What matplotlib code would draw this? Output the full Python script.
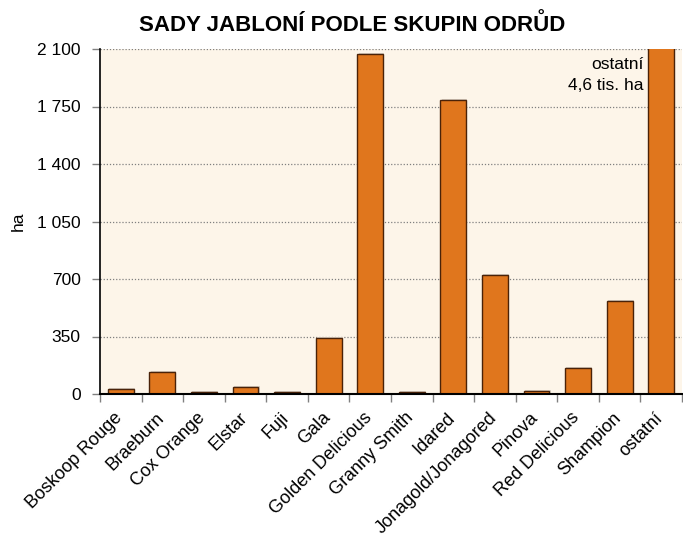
import numpy as np
import matplotlib.pyplot as plt
import matplotlib.transforms as mtransforms
from matplotlib.ticker import FuncFormatter, FixedLocator

plt.rcParams['font.family'] = ['Liberation Sans', 'DejaVu Sans']

odrudy = ['Boskoop Rouge', 'Braeburn', 'Cox Orange', 'Elstar', 'Fuji', 'Gala',
          'Golden Delicious', 'Granny Smith', 'Idared', 'Jonagold/Jonagored',
          'Pinova', 'Red Delicious', 'Shampion', 'ostatní']
plocha = [29, 136, 12, 41, 12, 341, 2070, 10, 1790, 724, 16, 158, 566, 4600]
y_ticks = [0, 350, 700, 1050, 1400, 1750, 2100]

fig = plt.figure(figsize=(6.83, 5.37), dpi=100)
ax = fig.add_axes([100/683, 1 - 394/537, 582/683, 345/537])
ax.set_facecolor('#fdf5e9')

x = np.arange(len(odrudy))
# stin pod sloupci
ax.bar(x + 0.03, np.array(plocha) + 6, width=0.62, color='#d8d0c4', zorder=1)
ax.bar(x, plocha, width=0.62, color='#e0761d', edgecolor='#4a2208', linewidth=1.0, zorder=2)

ax.set_xlim(-0.5, len(odrudy) - 0.5)
ax.set_ylim(0, 2100)
ax.yaxis.set_major_locator(FixedLocator(y_ticks))
ax.yaxis.set_major_formatter(FuncFormatter(lambda v, p: f'{int(v):,}'.replace(',', ' ')))
ax.grid(axis='y', color='#808080', linestyle=(0, (1, 1.5)), linewidth=0.9, zorder=0)
ax.set_axisbelow(True)

ax.set_xticks(x)
ax.set_xticklabels(odrudy, rotation=45, ha='right', rotation_mode='anchor', fontsize=13)
ax.tick_params(axis='x', length=0, pad=11)
posun = mtransforms.ScaledTranslation(-5/72, 0, fig.dpi_scale_trans)
for lbl in ax.get_xticklabels():
    lbl.set_transform(lbl.get_transform() + posun)
ax.set_xticks(np.arange(len(odrudy) + 1) - 0.5, minor=True)
ax.tick_params(axis='x', which='minor', length=6, color='#808080', width=1)
ax.tick_params(axis='y', labelsize=12.5, length=6, color='#808080', width=1, pad=8)

for s in ['top', 'right']:
    ax.spines[s].set_visible(False)
ax.spines['left'].set_linewidth(1.2)
ax.spines['bottom'].set_linewidth(1.5)

ax.set_ylabel('ha', fontsize=12.5, labelpad=8)

ax.text(len(odrudy) - 1.42, 2050, 'ostatní\n4,6 tis. ha', ha='right', va='top',
        fontsize=12.5, linespacing=1.5)

fig.text(352/683, 1 - 25/537, 'SADY JABLONÍ PODLE SKUPIN ODRŮD', ha='center', va='center',
         fontsize=16, fontweight='bold')

fig.savefig('out.png', dpi=100)
